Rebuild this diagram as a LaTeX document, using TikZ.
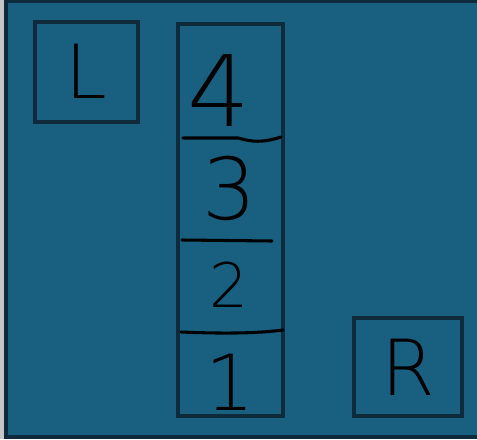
\documentclass[tikz,border=0pt]{standalone}
\usepackage{fontspec}
\newfontfamily\hand{DejaVu Sans ExtraLight}
\definecolor{panelblue}{HTML}{185F80}
\definecolor{darkedge}{HTML}{0E2A3B}
\tikzset{
  box/.style={draw=darkedge, line width=3pt, inner sep=0pt},
  glyph/.style={text=black, inner sep=0pt},
  divider/.style={black, line width=2.3pt, line cap=round}
}
\begin{document}
\begin{tikzpicture}[x=0.75pt, y=-0.75pt]
    \useasboundingbox (0,0) rectangle (477,439);
    % 1. 背景
    \fill[gray!45] (0,0) rectangle (477,439);
    \draw[draw=darkedge, fill=panelblue, line width=3pt] (5.5,1) rectangle (495,436.5);

    % 2. 左上 L，右下 R
    \node[box, minimum width=77pt, minimum height=75pt, glyph, font=\hand\fontsize{56}{56}\selectfont] (lbox) at (86.5,71.5) {L};
    \node[box, minimum width=81pt, minimum height=74pt, glyph, font=\hand\fontsize{58}{58}\selectfont] (rbox) at (408,367) {R};

    % 3. 中间一列 4 3 2 1
    \node[box, minimum width=79pt, minimum height=294pt] (stack) at (230.5,219.5) {};
    \node[glyph, font=\hand\fontsize{74}{74}\selectfont] (four)  at (219,91)  {4};
    \node[glyph, font=\hand\fontsize{64}{64}\selectfont] (three) at (230,188) {3};
    \node[glyph, font=\hand\fontsize{46}{46}\selectfont] (two)   at (229,285) {2};
    \node[glyph, font=\hand\fontsize{58}{58}\selectfont] (one)   at (230,382) {1};

    % 4. 分隔线
    \draw[divider] (183,138) -- (238,138) .. controls (252,142) and (262,143) .. (281,137);
    \draw[divider] (182,240) -- (272,241);
    \draw[divider] (181,332) .. controls (230,334) and (260,333) .. (283,330);
\end{tikzpicture}
\end{document}
